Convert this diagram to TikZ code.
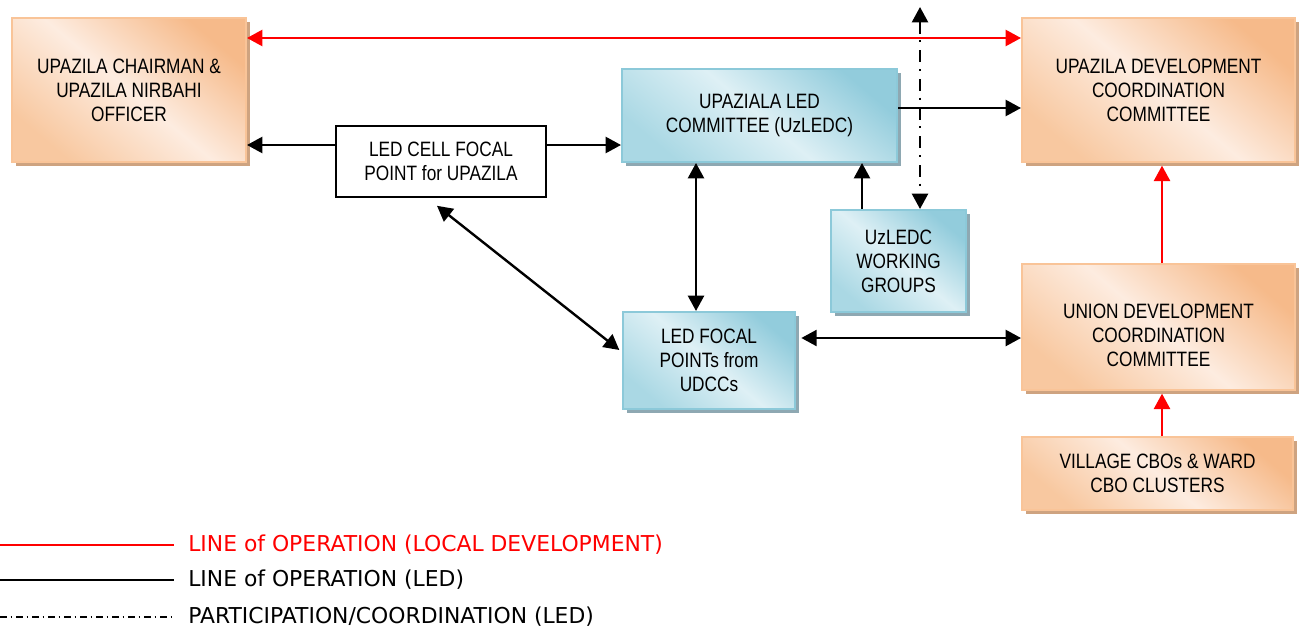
\documentclass[tikz,border=0pt]{standalone}
\usepackage{fontspec}
\setmainfont{Liberation Sans}
\newfontfamily\boxfont[FakeStretch=0.83]{Liberation Sans}
\newfontfamily\legfont{DejaVu Sans}
\usetikzlibrary{arrows.meta,shadows,calc}
\definecolor{ordark}{RGB}{246,186,138}
\definecolor{ormid}{RGB}{248,200,160}
\definecolor{orlight}{RGB}{253,236,224}
\definecolor{orborder}{RGB}{249,196,152}
\definecolor{orshadow}{RGB}{206,163,128}
\definecolor{bldark}{RGB}{146,204,220}
\definecolor{blmid}{RGB}{170,216,228}
\definecolor{bllight}{RGB}{222,240,245}
\definecolor{blborder}{RGB}{140,201,217}
\definecolor{blshadow}{RGB}{142,168,178}
\definecolor{myred}{RGB}{255,0,0}
\begin{document}
\begin{tikzpicture}[x=0.75pt,y=-0.75pt,
  >={Triangle[length=11.5pt,width=12pt]},
  boxtext/.style={align=center, inner sep=0pt, font=\boxfont\fontsize{15.6}{18}\selectfont},
  orbox/.style={boxtext, draw=orborder, line width=1.5pt, shading=axis,
    top color=ordark, bottom color=ormid, middle color=orlight, shading angle=-40,
    general shadow={fill=orshadow, shadow xshift=3pt, shadow yshift=-3pt}},
  blbox/.style={boxtext, draw=blborder, line width=1.5pt, shading=axis,
    top color=bldark, bottom color=blmid, middle color=bllight, shading angle=-40,
    general shadow={fill=blshadow, shadow xshift=3pt, shadow yshift=-3pt}},
  whbox/.style={boxtext, draw=black, line width=1.2pt, fill=white},
  blk/.style={line width=1.8pt, black},
  redl/.style={line width=1.8pt, myred},
  dd/.style={line width=1.8pt, black, dash pattern=on 9pt off 5pt on 1.5pt off 6pt},
  legtext/.style={anchor=west, inner sep=0pt, font=\legfont\fontsize{16.4}{18}\selectfont}
]
\useasboundingbox (0,0) rectangle (1299,632);

% boxes
\node[orbox, minimum width=234*0.75pt, minimum height=144*0.75pt] (chair) at (129,90)
  {UPAZILA CHAIRMAN \&\\UPAZILA NIRBAHI\\OFFICER};
\node[orbox, minimum width=273*0.75pt, minimum height=144*0.75pt] (udcc) at (1158.5,90)
  {UPAZILA DEVELOPMENT\\COORDINATION\\COMMITTEE};
\node[whbox, minimum width=210*0.75pt, minimum height=71*0.75pt] (cell) at (441,161.5)
  {LED CELL FOCAL\\POINT for UPAZILA};
\node[blbox, minimum width=275*0.75pt, minimum height=93*0.75pt] (uzledc) at (759.5,115.5)
  {UPAZIALA LED\\COMMITTEE (UzLEDC)};
\node[blbox, minimum width=135*0.75pt, minimum height=102*0.75pt] (wg) at (898.5,261)
  {UzLEDC\\WORKING\\GROUPS};
\node[blbox, minimum width=172*0.75pt, minimum height=97*0.75pt] (lfp) at (709,360.5)
  {LED FOCAL\\POINTs from\\UDCCs};
\node[orbox, minimum width=273*0.75pt, minimum height=126*0.75pt,
  label={[boxtext, yshift=-6.5pt]center:{UNION DEVELOPMENT\\COORDINATION\\COMMITTEE}}] (union) at (1158.5,327) {};
\node[orbox, minimum width=271*0.75pt, minimum height=73*0.75pt] (village) at (1157.5,473.5)
  {VILLAGE CBOs \& WARD\\CBO CLUSTERS};

% helper coordinates
\coordinate (yred) at (0,38);
\coordinate (y145) at (0,145);
\coordinate (y108) at (0,108);
\coordinate (y338) at (0,338);
\coordinate (y350) at (0,350);
\coordinate (x920) at (920,0);
\coordinate (x862) at (862,0);
\coordinate (x696) at (696,0);
\coordinate (x1162) at (1162,0);
\coordinate (ddtop) at (920,7);

% connectors
\draw[redl, <->] (chair.east |- yred) -- (udcc.west |- yred);
\draw[blk, ->] (cell.west |- y145) -- (chair.east |- y145);
\draw[blk, ->] (cell.east |- y145) -- (uzledc.west |- y145);
\draw[blk, ->] (uzledc.east |- y108) -- (udcc.west |- y108);
\draw[dd, <->] (ddtop) -- (wg.north -| x920);
\draw[blk, ->] (wg.north -| x862) -- (uzledc.south -| x862);
\draw[blk, <->] (uzledc.south -| x696) -- (lfp.north -| x696);
\draw[blk, <->] ([xshift=-3pt,yshift=-6pt]cell.south) -- ([xshift=-2pt]lfp.west |- y350);
\draw[blk, <->] ([xshift=4pt]lfp.east |- y338) -- (union.west |- y338);
\draw[redl, ->] (union.north -| x1162) -- ([yshift=-2pt]udcc.south -| x1162);
\draw[redl, ->] (village.north -| x1162) -- ([yshift=-2pt]union.south -| x1162);

% legend
\coordinate (l1a) at (0,545); \coordinate (l1b) at (174,545);
\coordinate (l2a) at (0,580); \coordinate (l2b) at (174,580);
\coordinate (l3a) at (0,617); \coordinate (l3b) at (174,617);
\draw[myred, line width=1.3pt] (l1a) -- (l1b);
\draw[black, line width=1.3pt] (l2a) -- (l2b);
\draw[black, line width=1pt, dash pattern=on 5pt off 3pt on 1pt off 3pt] (l3a) -- (l3b);
\node[legtext, text=myred] (t1) at (188,545) {LINE of OPERATION (LOCAL DEVELOPMENT)};
\node[legtext] (t2) at (188,580) {LINE of OPERATION (LED)};
\node[legtext] (t3) at (188,617) {PARTICIPATION/COORDINATION (LED)};
\end{tikzpicture}
\end{document}
